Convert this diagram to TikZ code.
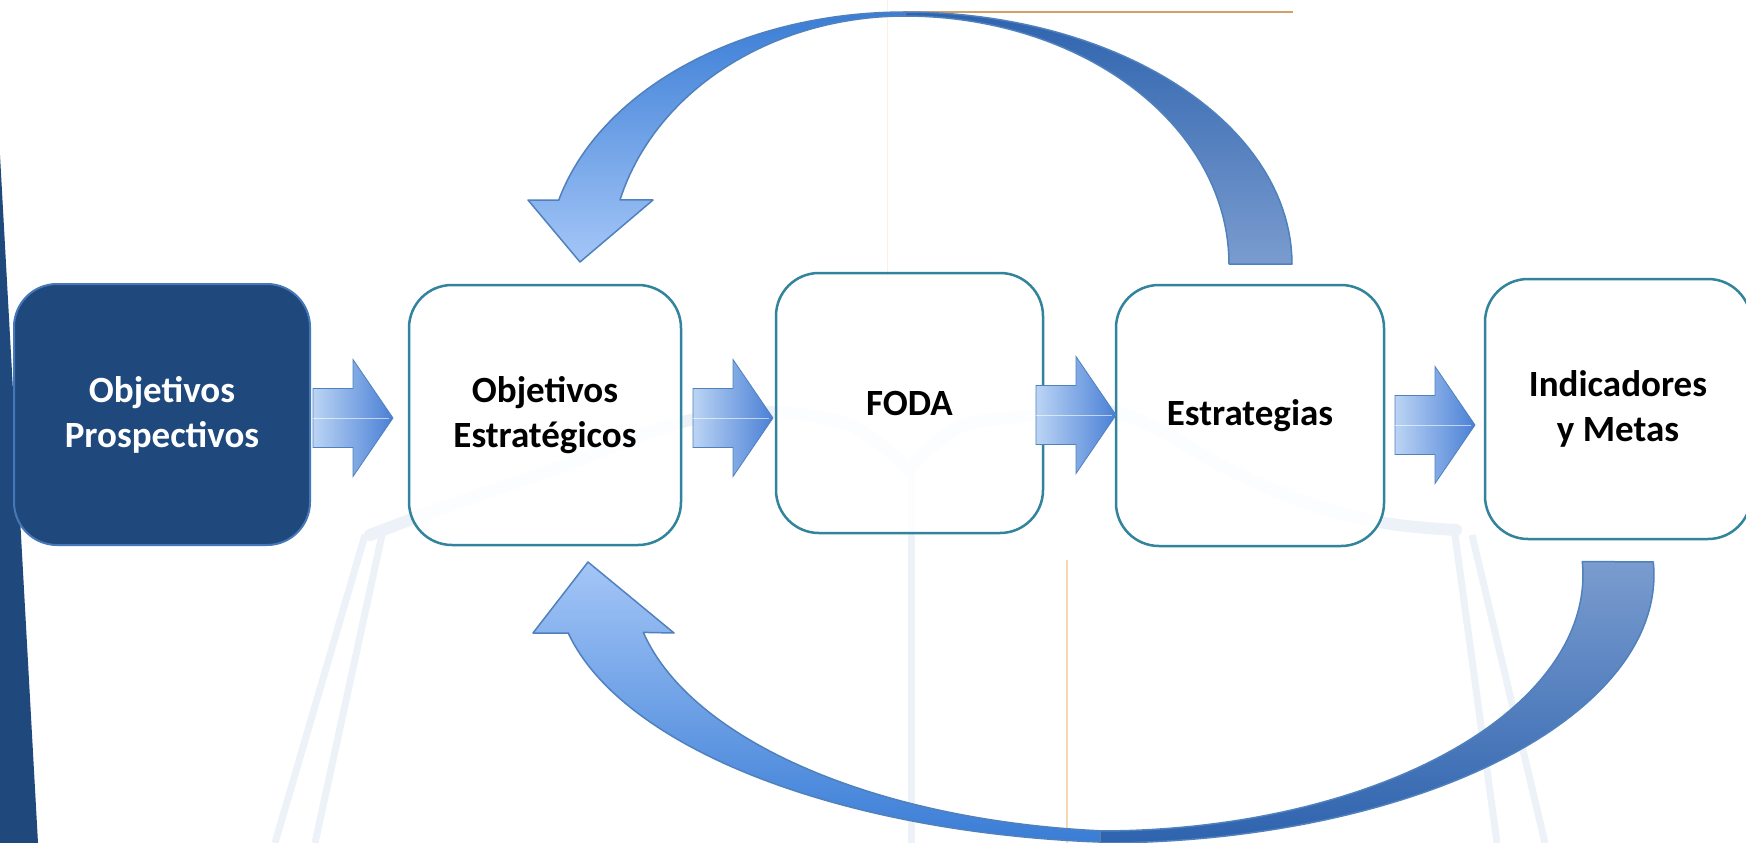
\documentclass[tikz,border=0pt]{standalone}
\usepackage{fontspec}
\setmainfont{Carlito}
\definecolor{navy}{HTML}{1F497D}
\definecolor{navyedge}{HTML}{4677B8}
\definecolor{tealc}{HTML}{31849B}
\definecolor{wmblue}{HTML}{EDF2F9}
\definecolor{arrowedge}{HTML}{4F81BD}
\definecolor{tanline}{HTML}{D4A06A}
\definecolor{faintorange}{HTML}{F6D9B4}
\definecolor{bright}{HTML}{3A7DD6}
\definecolor{pale}{HTML}{A4C6F7}
\definecolor{deep}{HTML}{2E63AE}
\definecolor{greyblue}{HTML}{7A9CCF}
\definecolor{shaftlight}{HTML}{BBD4F4}
\definecolor{headblue}{HTML}{4A80D6}
\tikzset{
  box/.style={rounded corners=43, minimum height=260, align=center,
    font=\fontsize{37}{45}\selectfont\bfseries, inner sep=0},
  tealbox/.style={box, draw=tealc, line width=2.5, fill=white, fill opacity=0.85, text opacity=1},
  darkbox/.style={box, draw=navyedge, line width=2, fill=navy, text=white},
  wm/.style={draw=wmblue, line width=12, line cap=round, line join=round},
  wmthin/.style={draw=wmblue, line width=7},
  curvedge/.style={draw=arrowedge, line width=1.5, line join=round},
  blockarrow/.pic={
    \path[draw=arrowedge, line width=0.8, left color=shaftlight, right color=headblue, line join=miter]
      (0,-29.5) -- (40,-29.5) -- (40,-58.5) -- (80,0) -- (40,58.5) -- (40,29.5) -- (0,29.5) -- cycle;
    \draw[white, opacity=0.6, line width=1] (0,0) -- (76,0);
  }
}
\begin{document}
\begin{tikzpicture}[x=1pt,y=-1pt]
\clip (0,0) rectangle (1746,843);
\fill[white] (0,0) rectangle (1746,843);

% left dark strip
\fill[navy] (0,155) -- (38,843) -- (0,843) -- cycle;

% faint watermark (open book)
\draw[wm] plot[smooth, tension=0.6] coordinates {(370,535) (450,505) (552,470) (675,424) (760,412) (850,425) (909,470)};
\draw[wm] plot[smooth, tension=0.6] coordinates {(909,470) (960,427) (1042,415) (1107,411) (1160,430) (1224,467) (1307,503) (1385,523) (1456,530)};
\draw[wmthin] (365,535) -- (275,843);
\draw[wmthin] (382,535) -- (315,843);
\draw[wmthin] (911,475) -- (911,843);
\draw[wmthin] (1455,535) -- (1497,843);
\draw[wmthin] (1472,535) -- (1545,843);

% faint guide lines
\draw[faintorange, line width=1.2] (1067,560) -- (1067,843);
\draw[faintorange!40, line width=1] (887,0) -- (887,280);
\draw[tanline, line width=2] (903,12) -- (1293,12);

% boxes
\node[darkbox, minimum width=296, minimum height=261] (op) at (162,414.5) {Objetivos\\Prospectivos};
\node[tealbox, minimum width=272] (oe) at (545,415) {Objetivos\\Estratégicos};
\node[tealbox, minimum width=267] (fo) at (909.5,403) {FODA};
\node[tealbox, minimum width=268, minimum height=261] (es) at (1250,415.5) {Estrategias};
\node[tealbox, minimum width=266] (im) at (1618,409) {Indicadores\\y Metas};

% straight block arrows between boxes
\coordinate (a1) at (313,418);
\coordinate (a2) at (693,418);
\coordinate (a3) at (1036,415);
\coordinate (a4) at (1395,425);
\pic at (a1) {blockarrow};
\pic at (a2) {blockarrow};
\pic at (a3) {blockarrow};
\pic at (a4) {blockarrow};

% top curved arrow: Estrategias -> Objetivos Estrategicos
\path[curvedge, top color=bright, bottom color=pale]
  (528,200) -- (559,200)
  -- plot[domain=194.7:270, samples=50] ({905+358*cos(\x)},{264+252*sin(\x)})
  -- plot[domain=270:195, samples=50] ({905+295*cos(\x)},{264+248*sin(\x)})
  -- (653,200) -- (580,262) -- cycle;
\path[curvedge, top color=deep, bottom color=greyblue]
  plot[domain=270:360, samples=50] ({905+387*cos(\x)},{264+252*sin(\x)})
  -- plot[domain=360:270, samples=50] ({905+324*cos(\x)},{264+248*sin(\x)})
  -- cycle;

% bottom curved arrow: Indicadores y Metas -> Objetivos Estrategicos
\path[curvedge, top color=pale, bottom color=bright]
  (533,633) -- (568,633)
  -- plot[domain=168.4:94.8, samples=60] ({1150+594*cos(\x)},{580+263*sin(\x)})
  -- plot[domain=95.5:168, samples=60] ({1150+518*cos(\x)},{580+252*sin(\x)})
  -- (674,633) -- (588,562) -- cycle;
\path[curvedge, top color=greyblue, bottom color=deep]
  plot[domain=-2.8:90, samples=60] ({1100+554*cos(\x)},{575+268*sin(\x)})
  -- plot[domain=90:-3, samples=60] ({1100+483*cos(\x)},{575+256*sin(\x)})
  -- cycle;
\end{tikzpicture}
\end{document}
